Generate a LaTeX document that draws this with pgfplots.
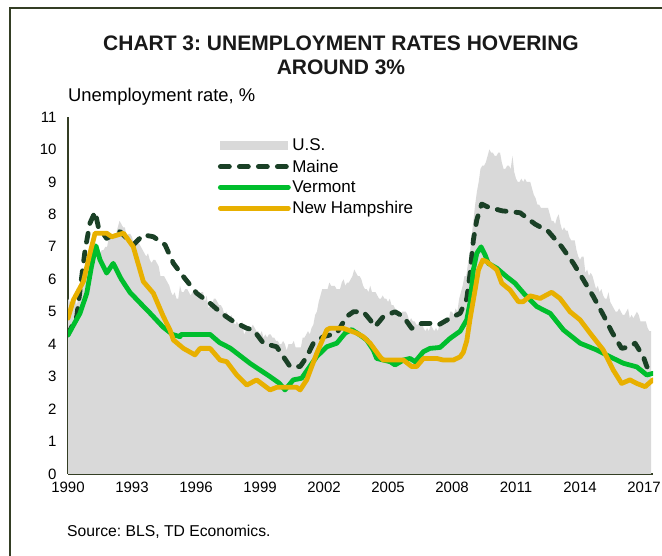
\documentclass[border=0pt]{standalone}
\usepackage{fontspec}
\setmainfont{Liberation Sans}
\usepackage{pgfplots}
\pgfplotsset{compat=1.18}
\usepackage{pgfplotstable}
\frenchspacing

\definecolor{usgray}{RGB}{217,217,217}
\definecolor{maine}{RGB}{26,64,38}
\definecolor{vermont}{RGB}{0,190,45}
\definecolor{nhamp}{RGB}{232,176,0}
\definecolor{framecol}{RGB}{52,62,36}

% U.S. monthly rate, Jan 1990 - May 2017
\pgfplotstableread[row sep=\\]{u\\
5.4\\5.3\\5.2\\5.4\\5.4\\5.2\\5.5\\5.7\\5.9\\5.9\\6.2\\6.3\\
6.4\\6.6\\6.8\\6.7\\6.9\\6.9\\6.8\\6.9\\6.9\\7.0\\7.0\\7.3\\
7.3\\7.4\\7.4\\7.4\\7.6\\7.8\\7.7\\7.6\\7.6\\7.3\\7.4\\7.4\\
7.3\\7.1\\7.0\\7.1\\7.1\\7.0\\6.9\\6.8\\6.7\\6.8\\6.6\\6.5\\
6.6\\6.6\\6.5\\6.4\\6.1\\6.1\\6.1\\6.0\\5.9\\5.8\\5.6\\5.5\\
5.6\\5.4\\5.4\\5.8\\5.6\\5.6\\5.7\\5.7\\5.6\\5.5\\5.6\\5.6\\
5.6\\5.5\\5.5\\5.6\\5.6\\5.3\\5.5\\5.1\\5.2\\5.2\\5.4\\5.4\\
5.3\\5.2\\5.2\\5.1\\4.9\\5.0\\4.9\\4.8\\4.9\\4.7\\4.6\\4.7\\
4.6\\4.6\\4.7\\4.3\\4.4\\4.5\\4.5\\4.5\\4.6\\4.5\\4.4\\4.4\\
4.3\\4.4\\4.2\\4.3\\4.2\\4.3\\4.3\\4.2\\4.2\\4.1\\4.1\\4.0\\
4.0\\4.1\\4.0\\3.8\\4.0\\4.0\\4.0\\4.1\\3.9\\3.9\\3.9\\3.9\\
4.2\\4.2\\4.3\\4.4\\4.3\\4.5\\4.6\\4.9\\5.0\\5.3\\5.5\\5.7\\
5.7\\5.7\\5.7\\5.9\\5.8\\5.8\\5.8\\5.7\\5.7\\5.7\\5.9\\6.0\\
5.8\\5.9\\5.9\\6.0\\6.1\\6.3\\6.2\\6.1\\6.1\\6.0\\5.8\\5.7\\
5.7\\5.6\\5.8\\5.6\\5.6\\5.6\\5.5\\5.4\\5.4\\5.5\\5.4\\5.4\\
5.3\\5.4\\5.2\\5.2\\5.1\\5.0\\5.0\\4.9\\5.0\\5.0\\5.0\\4.9\\
4.7\\4.8\\4.7\\4.7\\4.6\\4.6\\4.7\\4.7\\4.5\\4.4\\4.5\\4.4\\
4.6\\4.5\\4.4\\4.5\\4.4\\4.6\\4.7\\4.6\\4.7\\4.7\\4.7\\5.0\\
5.0\\4.9\\5.1\\5.0\\5.4\\5.6\\5.8\\6.1\\6.1\\6.5\\6.8\\7.3\\
7.8\\8.3\\8.7\\9.0\\9.4\\9.5\\9.5\\9.6\\9.8\\10.0\\9.9\\9.9\\
9.8\\9.8\\9.9\\9.9\\9.6\\9.4\\9.4\\9.5\\9.5\\9.4\\9.8\\9.3\\
9.1\\9.0\\9.0\\9.1\\9.0\\9.1\\9.0\\9.0\\9.0\\8.8\\8.6\\8.5\\
8.3\\8.3\\8.2\\8.2\\8.2\\8.2\\8.2\\8.0\\7.8\\7.8\\7.7\\7.9\\
8.0\\7.7\\7.5\\7.6\\7.5\\7.5\\7.3\\7.2\\7.2\\7.2\\6.9\\6.7\\
6.6\\6.7\\6.7\\6.2\\6.3\\6.1\\6.2\\6.1\\5.9\\5.7\\5.8\\5.6\\
5.7\\5.5\\5.4\\5.4\\5.6\\5.3\\5.2\\5.1\\5.0\\5.0\\5.1\\5.0\\
4.9\\4.9\\5.0\\5.1\\4.8\\4.9\\4.8\\4.9\\5.0\\4.9\\4.7\\4.7\\
4.7\\4.7\\4.5\\4.4\\4.4\\
}\ustable

\begin{document}
\begin{tikzpicture}
\begin{scope}[x=1pt,y=1pt]
% frame (top and left edges only show)
\draw[framecol, line width=1.6pt] (10,0) -- (10,548) -- (662,548);
\node[font=\fontsize{21}{24}\selectfont\bfseries, text=black!90] at (341,513) {CHART 3: UNEMPLOYMENT RATES HOVERING};
\node[font=\fontsize{21}{24}\selectfont\bfseries, text=black!90] at (341,489) {AROUND 3\%};
\node[font=\fontsize{18.4}{20}\selectfont, anchor=west, inner sep=0pt] at (68,459) {Unemployment rate, \%};
\node[font=\fontsize{15.7}{18}\selectfont, anchor=west, inner sep=0pt] at (67,24) {Source: BLS, TD Economics.};
\end{scope}

\begin{axis}[
  at={(68pt,82pt)}, anchor=south west,
  scale only axis, width=585pt, height=357pt,
  xmin=1990, xmax=2017.42, ymin=0, ymax=11,
  xtick={1990,1993,...,2017}, ytick={0,1,...,11},
  x tick label style={/pgf/number format/1000 sep={}},
  /pgf/number format/assume math mode=true,
  ticklabel style={font=\fontsize{15}{18}\selectfont},
  yticklabel style={xshift=-8pt},
  xticklabel style={yshift=-4pt},
  major tick length=0pt,
  axis lines*=left,
  axis line style={framecol, line width=1.5pt},
  legend style={at={(rel axis cs:0.256,0.943)}, anchor=north west, draw=none, fill=none,
    font=\fontsize{17}{18}\selectfont, row sep=4.3pt, inner sep=0pt,
    nodes={inner sep=1.5pt}},
  legend cell align=left,
  clip=true,
]
\addplot[fill=usgray, draw=none,
  legend image code/.code={\fill[usgray] (0pt,-4.5pt) rectangle (68pt,4.5pt);}]
  table[x expr={1990+\coordindex/12}, y=u]{\ustable} \closedcycle;
\addlegendentry{U.S.}

\addplot[maine, line width=4.8pt, line cap=round, line join=round, dash pattern=on 9pt off 10pt,
  legend image code/.code={\draw (0pt,0pt) -- (68pt,0pt);}] coordinates {
(1990.0,4.3)(1990.41,4.85)(1990.8,6.9)(1991.03,7.73)(1991.27,8.08)(1991.42,7.62)(1991.81,7.26)
(1992.44,7.47)(1993.06,7.06)(1993.53,7.37)(1994.0,7.31)(1994.55,7.06)(1994.94,6.49)(1995.41,6.08)
(1996.03,5.57)(1996.66,5.26)(1997.2,4.95)(1997.75,4.7)(1998.38,4.49)(1998.69,4.44)(1999.16,4.03)
(1999.78,3.92)(2000.41,3.31)(2000.88,3.31)(2001.19,3.61)(2001.5,4.03)(2001.97,4.23)(2002.6,4.34)
(2003.06,4.85)(2003.38,5.0)(2003.84,5.0)(2004.16,4.75)(2004.39,4.54)(2004.78,4.85)(2005.33,5.0)
(2005.72,4.85)(2006.11,4.49)(2006.58,4.64)(2006.97,4.64)(2007.36,4.59)(2007.91,4.8)(2008.38,4.95)
(2008.69,5.4)(2008.85,6.2)(2009.0,7.21)(2009.16,7.83)(2009.39,8.32)(2009.63,8.24)(2010.33,8.11)
(2011.19,8.05)(2011.89,7.7)(2012.52,7.47)(2013.14,7.0)(2013.69,6.49)(2014.16,5.98)(2014.63,5.46)
(2015.09,4.9)(2015.48,4.39)(2015.95,3.87)(2016.34,3.92)(2016.58,4.03)(2016.97,3.61)(2017.13,3.31)
(2017.3,3.2)
};
\addlegendentry{Maine}

\addplot[vermont, line width=4.8pt, line cap=round, line join=round,
  legend image code/.code={\draw (0pt,0pt) -- (68pt,0pt);}] coordinates {
(1990.0,4.28)(1990.56,4.95)(1990.88,5.57)(1991.1,6.39)(1991.31,7.03)(1991.5,6.6)(1991.81,6.19)
(1992.12,6.49)(1992.5,6.0)(1992.9,5.6)(1993.38,5.27)(1993.84,4.96)(1994.45,4.53)(1994.9,4.3)
(1995.25,4.23)(1995.3,4.3)(1996.66,4.3)(1997.1,4.05)(1997.6,3.88)(1998.53,3.41)(1999.47,3.0)
(1999.9,2.8)(2000.17,2.59)(2000.56,2.9)(2000.95,2.95)(2001.66,3.62)(2002.13,3.92)(2002.6,4.03)
(2002.99,4.34)(2003.3,4.45)(2003.69,4.28)(2004.0,4.13)(2004.31,3.82)(2004.47,3.56)(2005.1,3.46)
(2005.33,3.36)(2005.72,3.51)(2006.03,3.56)(2006.27,3.46)(2006.66,3.77)(2006.97,3.87)(2007.44,3.9)
(2007.91,4.18)(2008.38,4.4)(2008.69,4.75)(2008.85,5.3)(2009.0,6.29)(2009.16,6.8)(2009.36,7.0)
(2009.55,6.75)(2009.7,6.49)(2010.1,6.34)(2010.56,6.08)(2010.95,5.88)(2011.42,5.52)(2011.97,5.16)
(2012.6,4.95)(2013.22,4.44)(2014.0,4.03)(2014.79,3.82)(2015.41,3.61)(2016.04,3.41)(2016.66,3.3)
(2017.13,3.05)(2017.41,3.1)
};
\addlegendentry{Vermont}

\addplot[nhamp, line width=4.8pt, line cap=round, line join=round,
  legend image code/.code={\draw (0pt,0pt) -- (68pt,0pt);}] coordinates {
(1990.0,4.8)(1990.25,5.36)(1990.72,5.93)(1991.03,6.8)(1991.27,7.42)(1991.81,7.42)(1992.05,7.31)
(1992.6,7.42)(1993.06,7.0)(1993.53,5.93)(1994.0,5.57)(1994.47,4.85)(1994.78,4.44)(1994.94,4.13)
(1995.41,3.87)(1995.95,3.67)(1996.19,3.87)(1996.66,3.87)(1997.13,3.51)(1997.44,3.46)(1997.91,3.05)
(1998.06,2.95)(1998.38,2.74)(1998.84,2.9)(1999.47,2.59)(1999.78,2.67)(2000.72,2.67)(2000.88,2.59)
(2001.19,2.9)(2001.66,3.72)(2002.13,4.44)(2002.28,4.49)(2002.9,4.49)(2003.53,4.34)(2003.84,4.23)
(2004.16,4.03)(2004.63,3.61)(2004.78,3.51)(2005.72,3.51)(2006.11,3.31)(2006.34,3.31)(2006.66,3.56)
(2007.28,3.56)(2007.6,3.51)(2008.06,3.51)(2008.38,3.61)(2008.53,3.75)(2008.69,4.1)(2008.85,4.8)
(2009.08,5.67)(2009.24,6.29)(2009.44,6.59)(2009.63,6.54)(2010.1,6.29)(2010.33,5.88)(2010.72,5.67)
(2011.11,5.31)(2011.34,5.31)(2011.66,5.49)(2012.13,5.41)(2012.67,5.6)(2013.06,5.41)(2013.53,5.0)
(2014.0,4.75)(2014.47,4.34)(2015.09,3.82)(2015.56,3.2)(2015.95,2.79)(2016.34,2.9)(2016.66,2.79)
(2017.05,2.69)(2017.41,2.9)
};
\addlegendentry{New Hampshire}
\end{axis}

\pgfresetboundingbox
\path[use as bounding box] (0pt,0pt) rectangle (662pt,556pt);
\end{tikzpicture}
\end{document}
